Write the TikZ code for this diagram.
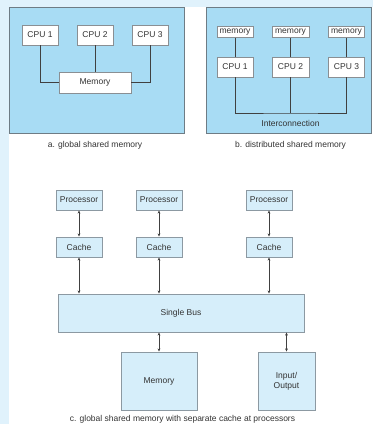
\documentclass[tikz,border=0pt]{standalone}
\usepackage{fontspec}
\setmainfont{Liberation Sans}
\usetikzlibrary{arrows.meta}
\definecolor{strip}{HTML}{E0F2FC}
\definecolor{panelfill}{HTML}{A8DCF4}
\definecolor{panelline}{HTML}{6E7C85}
\definecolor{boxline}{HTML}{8A8F93}
\definecolor{cfill}{HTML}{D6EEFA}
\definecolor{cline}{HTML}{8C99A2}
\definecolor{txt}{HTML}{333333}
\tikzset{
  panel/.style={draw=panelline, fill=panelfill, line width=0.9pt, inner sep=0pt},
  wbox/.style={draw=boxline, fill=white, line width=0.8pt, inner sep=0pt, text=txt, font=\fontsize{8.5}{10}\selectfont},
  cbox/.style={draw=cline, fill=cfill, line width=0.9pt, inner sep=0pt, text=txt, font=\fontsize{8.5}{10}\selectfont, align=center},
  conn/.style={draw=black!75, line width=0.6pt},
  arr/.style={draw=black!75, line width=0.6pt, {Stealth[length=3.2pt,width=2.8pt]}-{Stealth[length=3.2pt,width=2.8pt]}},
  lbl/.style={inner sep=0pt, text=txt, font=\fontsize{8.5}{10}\selectfont},
}
\begin{document}
\begin{tikzpicture}[x=1pt, y=-1pt]
\useasboundingbox (0,0) rectangle (373,424);
\fill[white] (0,0) rectangle (373,424);
\fill[strip] (0,0) rectangle (373,7);
\fill[strip] (0,0) rectangle (8.5,424);

% panel a
\node[panel, minimum width=175pt, minimum height=126pt] (pa) at (96.5,70) {};
\node[wbox, minimum width=36pt, minimum height=20pt] (a1) at (40,35) {CPU 1};
\node[wbox, minimum width=36pt, minimum height=20pt] (a2) at (95,35) {CPU 2};
\node[wbox, minimum width=36pt, minimum height=20pt] (a3) at (150,35) {CPU 3};
\node[wbox, minimum width=72pt, minimum height=21pt] (am) at (95,82.5) {Memory};
\draw[conn] (a1.south) |- (am.west);
\draw[conn] (a2.south) -- (am.north);
\draw[conn] (a3.south) |- (am.east);
\node[lbl] (capa) at (95,145) {a. global shared memory};

% panel b
\node[panel, minimum width=165pt, minimum height=126pt] (pb) at (288.5,70) {};
\node[wbox, minimum width=36pt, minimum height=11pt] (bm1) at (235,32) {memory};
\node[wbox, minimum width=37pt, minimum height=11pt] (bm2) at (290.5,32) {memory};
\node[wbox, minimum width=36pt, minimum height=11pt] (bm3) at (346.5,32) {memory};
\node[wbox, minimum width=36pt, minimum height=20pt] (b1) at (235,67) {CPU 1};
\node[wbox, minimum width=37pt, minimum height=20pt] (b2) at (290.5,67) {CPU 2};
\node[wbox, minimum width=36pt, minimum height=20pt] (b3) at (346.5,67) {CPU 3};
\coordinate (bj) at (290.5,113);
\draw[conn] (bm1.south) -- (b1.north);
\draw[conn] (bm2.south) -- (b2.north);
\draw[conn] (bm3.south) -- (b3.north);
\draw[conn] (b1.south) |- (bj) -| (b3.south);
\draw[conn] (b2.south) -- (bj);
\node[lbl] (ic) at (290.5,123.5) {Interconnection};
\node[lbl] (capb) at (290.5,145) {b. distributed shared memory};

% panel c
\node[cbox, minimum width=46pt, minimum height=20pt] (p1) at (79,200) {Processor};
\node[cbox, minimum width=46pt, minimum height=20pt] (p2) at (159,200) {Processor};
\node[cbox, minimum width=46pt, minimum height=20pt] (p3) at (269,200) {Processor};
\node[cbox, minimum width=46pt, minimum height=20pt] (c1) at (79,247) {Cache};
\node[cbox, minimum width=46pt, minimum height=20pt] (c2) at (159,247) {Cache};
\node[cbox, minimum width=46pt, minimum height=20pt] (c3) at (269,247) {Cache};
\node[cbox, minimum width=246pt, minimum height=38pt] (bus) at (181,313) {Single Bus};
\node[cbox, minimum width=76pt, minimum height=58pt] (mem) at (159,381) {Memory};
\node[cbox, minimum width=57pt, minimum height=58pt] (io) at (286.5,381) {Input/\\Output};
\draw[arr] (p1.south) -- (c1.north);
\draw[arr] (p2.south) -- (c2.north);
\draw[arr] (p3.south) -- (c3.north);
\draw[arr] (c1.south) -- (c1.south |- bus.north);
\draw[arr] (c2.south) -- (c2.south |- bus.north);
\draw[arr] (c3.south) -- (c3.south |- bus.north);
\draw[arr] (mem.north |- bus.south) -- (mem.north);
\draw[arr] (io.north |- bus.south) -- (io.north);
\node[lbl] (capc) at (182.5,419.5) {c. global shared memory with separate cache at processors};
\end{tikzpicture}
\end{document}
